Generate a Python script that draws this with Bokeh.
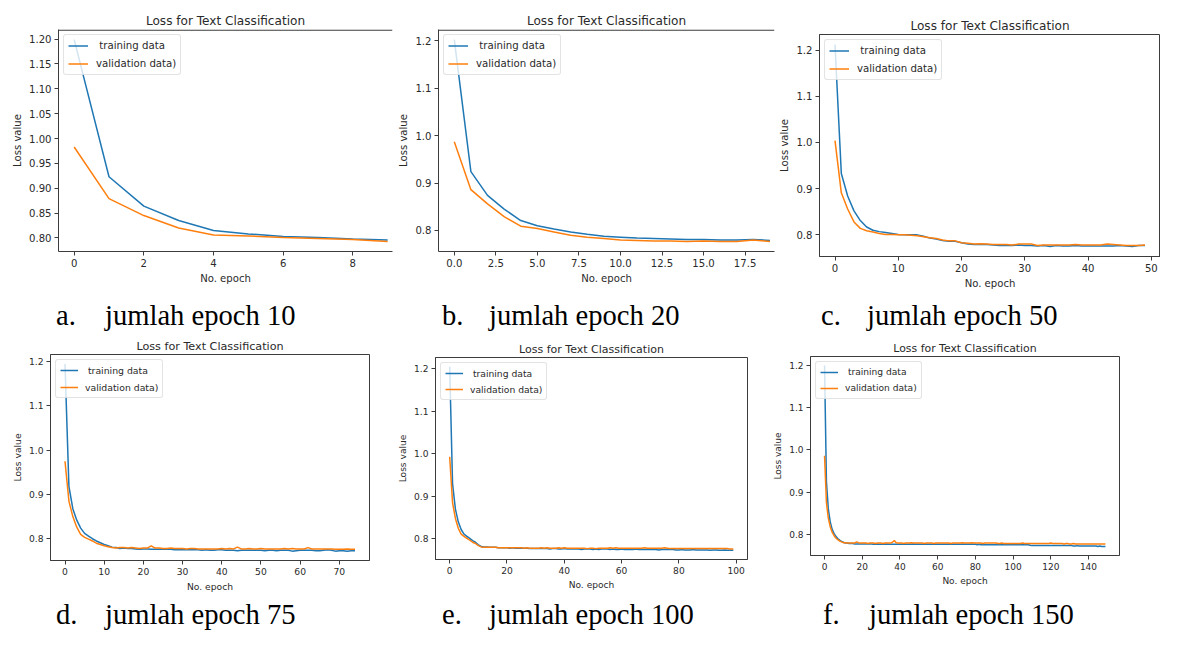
from bokeh.plotting import figure
from bokeh.models import (FixedTicker, NumeralTickFormatter, Legend,
                          LegendItem, Div, Range1d, BoxAnnotation)
from bokeh.layouts import row, column
from bokeh.embed import file_html
from bokeh.resources import INLINE

# ---------------- data ----------------
chart_title = "Loss for Text Classification"
x_label = "No. epoch"
y_label = "Loss value"
series_names = [" training data", "validation data)"]

caption_letters = ["a.", "b.", "c.", "d.", "e.", "f."]
caption_texts = ["jumlah epoch 10", "jumlah epoch 20", "jumlah epoch 50",
                 "jumlah epoch 75", "jumlah epoch 100", "jumlah epoch 150"]

train_a = [1.199, 0.923, 0.864, 0.835, 0.815, 0.808, 0.803, 0.801, 0.798, 0.796]
val_a = [0.983, 0.879, 0.845, 0.820, 0.806, 0.804, 0.801, 0.799, 0.797, 0.793]

train_b = [1.202, 0.924, 0.874, 0.845, 0.821, 0.810, 0.803, 0.797, 0.792, 0.788,
           0.786, 0.784, 0.783, 0.782, 0.781, 0.781, 0.780, 0.780, 0.781, 0.779]
val_b = [0.987, 0.886, 0.856, 0.829, 0.809, 0.804, 0.797, 0.790, 0.786, 0.783,
         0.780, 0.779, 0.778, 0.778, 0.777, 0.778, 0.777, 0.777, 0.780, 0.777]

train_c = [1.212, 0.933, 0.884, 0.852, 0.831, 0.817, 0.810, 0.807, 0.805, 0.803,
           0.801, 0.800, 0.800, 0.800, 0.797, 0.793, 0.791, 0.788, 0.786, 0.786,
           0.783, 0.780, 0.779, 0.779, 0.779, 0.778, 0.777, 0.777, 0.777, 0.778,
           0.777, 0.777, 0.776, 0.777, 0.775, 0.777, 0.776, 0.776, 0.777, 0.776,
           0.776, 0.776, 0.776, 0.776, 0.776, 0.777, 0.776, 0.775, 0.777, 0.777]
val_c = [1.004, 0.891, 0.856, 0.828, 0.814, 0.809, 0.806, 0.803, 0.801, 0.801,
         0.800, 0.800, 0.799, 0.798, 0.796, 0.794, 0.792, 0.789, 0.787, 0.787,
         0.783, 0.782, 0.780, 0.781, 0.780, 0.779, 0.779, 0.779, 0.778, 0.780,
         0.780, 0.780, 0.777, 0.778, 0.778, 0.778, 0.778, 0.778, 0.779, 0.778,
         0.778, 0.778, 0.778, 0.780, 0.779, 0.778, 0.777, 0.777, 0.777, 0.778]

train_d = [1.195, 0.918, 0.868, 0.842, 0.824, 0.812, 0.806, 0.800, 0.795, 0.791,
           0.787, 0.784, 0.781, 0.780, 0.778, 0.779, 0.778, 0.778, 0.777, 0.776,
           0.777, 0.777, 0.776, 0.776, 0.776, 0.776, 0.776, 0.776, 0.775, 0.775,
           0.775, 0.775, 0.775, 0.775, 0.775, 0.774, 0.775, 0.774, 0.774, 0.775,
           0.775, 0.774, 0.774, 0.774, 0.773, 0.774, 0.774, 0.774, 0.774, 0.774,
           0.774, 0.773, 0.774, 0.774, 0.773, 0.774, 0.774, 0.774, 0.772, 0.773,
           0.774, 0.774, 0.774, 0.774, 0.773, 0.773, 0.774, 0.775, 0.774, 0.772,
           0.773, 0.773, 0.772, 0.773, 0.773]
val_d = [0.975, 0.885, 0.850, 0.826, 0.810, 0.803, 0.799, 0.795, 0.790, 0.787,
         0.784, 0.782, 0.780, 0.779, 0.780, 0.780, 0.779, 0.780, 0.779, 0.778,
         0.779, 0.779, 0.784, 0.779, 0.779, 0.778, 0.778, 0.779, 0.778, 0.778,
         0.778, 0.777, 0.778, 0.778, 0.777, 0.777, 0.777, 0.777, 0.777, 0.777,
         0.778, 0.777, 0.778, 0.777, 0.781, 0.777, 0.777, 0.778, 0.777, 0.777,
         0.778, 0.777, 0.777, 0.777, 0.777, 0.777, 0.778, 0.777, 0.778, 0.777,
         0.777, 0.777, 0.780, 0.777, 0.777, 0.777, 0.777, 0.777, 0.777, 0.776,
         0.776, 0.776, 0.777, 0.776, 0.776]

train_e = [1.205, 0.930, 0.870, 0.840, 0.822, 0.811, 0.806, 0.801, 0.796, 0.792,
           0.786, 0.782, 0.781, 0.781, 0.780, 0.780, 0.780, 0.779, 0.779, 0.779,
           0.779, 0.778, 0.779, 0.778, 0.778, 0.778, 0.778, 0.778, 0.777, 0.777,
           0.777, 0.777, 0.777, 0.777, 0.777, 0.776, 0.777, 0.777, 0.776, 0.776,
           0.777, 0.776, 0.776, 0.776, 0.776, 0.776, 0.775, 0.776, 0.776, 0.776,
           0.775, 0.776, 0.775, 0.776, 0.776, 0.776, 0.775, 0.776, 0.775, 0.775,
           0.776, 0.775, 0.775, 0.775, 0.775, 0.776, 0.775, 0.775, 0.775, 0.775,
           0.775, 0.775, 0.775, 0.774, 0.775, 0.775, 0.775, 0.775, 0.775, 0.774,
           0.774, 0.775, 0.774, 0.774, 0.774, 0.775, 0.774, 0.774, 0.774, 0.774,
           0.774, 0.773, 0.774, 0.774, 0.773, 0.773, 0.774, 0.773, 0.773, 0.773]
val_e = [0.993, 0.885, 0.848, 0.825, 0.811, 0.806, 0.801, 0.797, 0.792, 0.789,
         0.784, 0.781, 0.780, 0.780, 0.780, 0.780, 0.780, 0.779, 0.779, 0.779,
         0.779, 0.779, 0.779, 0.779, 0.779, 0.779, 0.778, 0.779, 0.778, 0.778,
         0.778, 0.778, 0.779, 0.778, 0.779, 0.778, 0.778, 0.778, 0.779, 0.778,
         0.779, 0.778, 0.778, 0.778, 0.778, 0.778, 0.778, 0.778, 0.777, 0.778,
         0.778, 0.777, 0.778, 0.778, 0.778, 0.778, 0.779, 0.778, 0.779, 0.778,
         0.778, 0.778, 0.778, 0.778, 0.778, 0.778, 0.778, 0.778, 0.779, 0.778,
         0.778, 0.778, 0.778, 0.778, 0.778, 0.779, 0.778, 0.777, 0.777, 0.777,
         0.777, 0.777, 0.777, 0.777, 0.777, 0.777, 0.777, 0.777, 0.777, 0.777,
         0.777, 0.777, 0.777, 0.777, 0.777, 0.777, 0.777, 0.777, 0.776, 0.776]

train_f = [1.200, 0.925, 0.860, 0.830, 0.812, 0.802, 0.795, 0.790, 0.786, 0.783,
           0.781, 0.779, 0.779, 0.778, 0.778, 0.778, 0.777, 0.777, 0.777, 0.777,
           0.777, 0.777, 0.777, 0.777, 0.777, 0.777, 0.776, 0.777, 0.776, 0.776,
           0.776, 0.776, 0.776, 0.777, 0.776, 0.776, 0.776, 0.776, 0.776, 0.776,
           0.776, 0.776, 0.776, 0.776, 0.776, 0.776, 0.776, 0.777, 0.776, 0.776,
           0.776, 0.776, 0.776, 0.776, 0.776, 0.776, 0.776, 0.776, 0.776, 0.776,
           0.776, 0.776, 0.776, 0.776, 0.776, 0.776, 0.776, 0.776, 0.776, 0.776,
           0.776, 0.776, 0.776, 0.776, 0.776, 0.776, 0.776, 0.776, 0.776, 0.776,
           0.776, 0.775, 0.776, 0.775, 0.775, 0.775, 0.775, 0.775, 0.775, 0.775,
           0.775, 0.775, 0.775, 0.775, 0.775, 0.775, 0.775, 0.775, 0.775, 0.775,
           0.775, 0.775, 0.775, 0.775, 0.775, 0.775, 0.775, 0.775, 0.775, 0.774,
           0.773, 0.773, 0.773, 0.773, 0.773, 0.773, 0.773, 0.773, 0.773, 0.773,
           0.773, 0.773, 0.773, 0.773, 0.773, 0.773, 0.773, 0.773, 0.773, 0.773,
           0.773, 0.773, 0.772, 0.772, 0.773, 0.772, 0.772, 0.772, 0.772, 0.772,
           0.772, 0.772, 0.772, 0.772, 0.772, 0.771, 0.772, 0.771, 0.771, 0.771]
val_f = [0.986, 0.875, 0.838, 0.818, 0.805, 0.797, 0.791, 0.787, 0.784, 0.782,
         0.780, 0.780, 0.779, 0.779, 0.779, 0.779, 0.779, 0.782, 0.780, 0.779,
         0.779, 0.779, 0.779, 0.778, 0.779, 0.779, 0.779, 0.778, 0.779, 0.779,
         0.779, 0.778, 0.779, 0.779, 0.779, 0.779, 0.781, 0.785, 0.780, 0.779,
         0.779, 0.779, 0.778, 0.779, 0.779, 0.779, 0.780, 0.779, 0.779, 0.779,
         0.779, 0.779, 0.779, 0.778, 0.779, 0.779, 0.779, 0.779, 0.778, 0.779,
         0.779, 0.779, 0.779, 0.779, 0.779, 0.779, 0.779, 0.778, 0.779, 0.779,
         0.779, 0.779, 0.779, 0.780, 0.779, 0.779, 0.779, 0.779, 0.780, 0.779,
         0.779, 0.779, 0.779, 0.779, 0.778, 0.779, 0.779, 0.779, 0.779, 0.779,
         0.779, 0.779, 0.778, 0.778, 0.779, 0.778, 0.778, 0.778, 0.778, 0.778,
         0.778, 0.778, 0.778, 0.778, 0.778, 0.779, 0.778, 0.778, 0.778, 0.778,
         0.778, 0.778, 0.778, 0.778, 0.778, 0.778, 0.778, 0.778, 0.778, 0.778,
         0.779, 0.778, 0.778, 0.778, 0.778, 0.778, 0.778, 0.777, 0.778, 0.778,
         0.777, 0.777, 0.778, 0.777, 0.777, 0.777, 0.777, 0.777, 0.777, 0.777,
         0.777, 0.777, 0.777, 0.777, 0.777, 0.777, 0.777, 0.777, 0.777, 0.777]

xticks_a = [0, 2, 4, 6, 8]
xticks_b = [0, 2.5, 5, 7.5, 10, 12.5, 15, 17.5]
xticks_c = [0, 10, 20, 30, 40, 50]
xticks_d = [0, 10, 20, 30, 40, 50, 60, 70]
xticks_e = [0, 20, 40, 60, 80, 100]
xticks_f = [0, 20, 40, 60, 80, 100, 120, 140]
yticks_a = [0.80, 0.85, 0.90, 0.95, 1.00, 1.05, 1.10, 1.15, 1.20]
yticks_other = [0.8, 0.9, 1.0, 1.1, 1.2]

# ---------------- layout (reference pixel geometry, scaled to fit) ----------------
TOTAL_W, TOTAL_H = 1160, 630
SX = TOTAL_W / 1177.0
SY = TOTAL_H / 647.0


def X(v):
    return int(round(v * SX))


def Y(v):
    return int(round(v * SY))


BLUE = "#1f77b4"
ORANGE = "#ff7f0e"
SPINE = "#3c3c3c"
TXT = "#2a2a2a"
FONT = "DejaVu Sans"

panels = [
    dict(train=train_a, val=val_a, canvas=(0, 0, 401, 300), frame=(59, 29.3, 398, 257.3),
         xr=(-0.45, 9.14), xt=xticks_a, xf="0", yt=yticks_a, yf="0.00", k=1.0, open_right=True),
    dict(train=train_b, val=val_b, canvas=(401, 0, 787, 300), frame=(444, 30, 785, 257.7),
         xr=(-0.95, 19.27), xt=xticks_b, xf="0.0", yt=yticks_other, yf="0.0", k=1.0, open_right=True),
    dict(train=train_c, val=val_c, canvas=(787, 0, 1177, 300), frame=(830, 35, 1177, 263),
         xr=(-2.45, 51.45), xt=xticks_c, xf="0", yt=yticks_other, yf="0.0", k=1.0, open_right=False),
    dict(train=train_d, val=val_d, canvas=(0, 342, 395, 610), frame=(51, 363.3, 374, 575),
         xr=(-3.7, 77.7), xt=xticks_d, xf="0", yt=yticks_other, yf="0.0", k=0.92, open_right=False),
    dict(train=train_e, val=val_e, canvas=(395, 342, 776, 610), frame=(441.7, 366.7, 758.3, 574),
         xr=(-4.95, 103.95), xt=xticks_e, xf="0", yt=yticks_other, yf="0.0", k=0.91, open_right=False),
    dict(train=train_f, val=val_f, canvas=(776, 342, 1177, 610), frame=(821.7, 366, 1135, 570),
         xr=(-7.45, 156.45), xt=xticks_f, xf="0", yt=yticks_other, yf="0.0", k=0.90, open_right=False),
]

caption_rows = [(300, 342, 335), (610, 647, 642)]  # div top, div bottom, text baseline (ref px)
caption_x = [(57, 107), (448, 496), (833, 880), (57, 107), (448, 496), (835, 882)]


def px(v):
    return "%.1fpx" % v


def make_panel(d):
    cx0, cy0, cx1, cy1 = d["canvas"]
    fx0, fy0, fx1, fy1 = d["frame"]
    W = X(cx1) - X(cx0)
    H = Y(cy1) - Y(cy0)
    bl = X(fx0) - X(cx0)
    br = X(cx1) - X(fx1)
    bt = Y(fy0) - Y(cy0)
    bb = Y(cy1) - Y(fy1)
    frame_h = H - bt - bb
    k = d["k"] * SX
    allv = d["train"] + d["val"]
    lo, hi = min(allv), max(allv)
    pad = 0.05 * (hi - lo)
    y0, y1 = lo - pad, hi + pad
    p = figure(width=W, height=H, output_backend="svg", toolbar_location=None,
               x_range=Range1d(*d["xr"]), y_range=Range1d(y0, y1),
               min_border_left=bl, min_border_right=br, min_border_top=bt,
               min_border_bottom=bb, title=chart_title)
    p.background_fill_color = "white"
    p.border_fill_color = "white"
    p.xgrid.visible = False
    p.ygrid.visible = False
    p.title.align = "center"
    p.title.text_font = FONT
    p.title.text_font_style = "normal"
    p.title.text_font_size = px(12.3 * k)
    p.title.text_color = TXT
    p.title.standoff = 3

    xaxis = p.below[0]
    yaxis = p.left[0]
    for ax, ticks, fmt, lab in ((xaxis, d["xt"], d["xf"], x_label),
                                (yaxis, d["yt"], d["yf"], y_label)):
        ax.ticker = FixedTicker(ticks=ticks)
        ax.formatter = NumeralTickFormatter(format=fmt)
        ax.axis_label = lab
        ax.axis_label_text_font = FONT
        ax.axis_label_text_font_style = "normal"
        ax.axis_label_text_font_size = px(10.2 * k)
        ax.axis_label_text_color = TXT
        ax.axis_label_standoff = 3
        ax.major_label_text_font = FONT
        ax.major_label_text_font_size = px(10.2 * k)
        ax.major_label_text_color = TXT
        ax.major_label_standoff = 3
        ax.major_tick_in = 0
        ax.major_tick_out = 4
        ax.major_tick_line_color = SPINE
        ax.minor_tick_line_color = None
        ax.axis_line_color = SPINE
        ax.axis_line_width = 1

    if d["open_right"]:
        # the source image is cropped on the right: spines only left, bottom and top
        p.outline_line_color = None
        one_px = (y1 - y0) / frame_h
        p.add_layout(BoxAnnotation(top=y1, bottom=y1 - 1.2 * one_px,
                                   fill_color=SPINE, fill_alpha=1.0,
                                   line_color=None, level="overlay"))
    else:
        p.outline_line_color = SPINE
        p.outline_line_width = 1
        p.outline_line_alpha = 1.0

    xs = list(range(len(d["train"])))
    xv = list(range(len(d["val"])))
    r1 = p.line(xs, d["train"], line_color=BLUE, line_width=1.5)
    r2 = p.line(xv, d["val"], line_color=ORANGE, line_width=1.5)
    leg = Legend(items=[LegendItem(label=series_names[0], renderers=[r1]),
                        LegendItem(label=series_names[1], renderers=[r2])],
                 location="top_left", margin=5, padding=4,
                 spacing=int(round(5 * k)), glyph_width=int(round(20 * k)),
                 glyph_height=int(round(13 * k)), label_height=int(round(13 * k)),
                 label_standoff=int(round(8 * k)),
                 label_text_font=FONT, label_text_font_size=px(10.3 * k),
                 label_text_color=TXT,
                 border_line_color="#c8c8c8", border_line_width=1,
                 background_fill_color="white", background_fill_alpha=0.8)
    if "border_radius" in Legend.properties():
        leg.border_radius = 3
    p.add_layout(leg)
    return p


def make_caption(i, cx0, cx1, top_ref, bot_ref, base_ref):
    w = X(cx1) - X(cx0)
    h = Y(bot_ref) - Y(top_ref)
    fs = 29 * SX
    base_local = base_ref * SY - Y(top_ref)
    t = base_local - 0.8375 * fs
    xl, xt = caption_x[i]
    span = ('<span style="position:absolute;left:%dpx;top:%.1fpx;white-space:nowrap;">%s</span>')
    html = ('<div style="position:relative;width:%dpx;height:%dpx;'
            'font-family:\'Liberation Serif\',serif;font-size:%.1fpx;line-height:1;'
            'color:#000;overflow:visible;">' % (w, h, fs)
            + span % (X(xl) - X(cx0), t, caption_letters[i])
            + span % (X(xt) - X(cx0), t, caption_texts[i]) + '</div>')
    return Div(text=html, width=w, height=h, margin=0)


cols = []
for i, d in enumerate(panels):
    fig = make_panel(d)
    r = 0 if i < 3 else 1
    top_ref, bot_ref, base_ref = caption_rows[r]
    cap = make_caption(i, d["canvas"][0], d["canvas"][2], top_ref, bot_ref, base_ref)
    cols.append(column(fig, cap, spacing=0))

layout = column(row(*cols[:3], spacing=0), row(*cols[3:], spacing=0), spacing=0)

open("out.html", "w").write(file_html(layout, INLINE, title="Loss for Text Classification"))
